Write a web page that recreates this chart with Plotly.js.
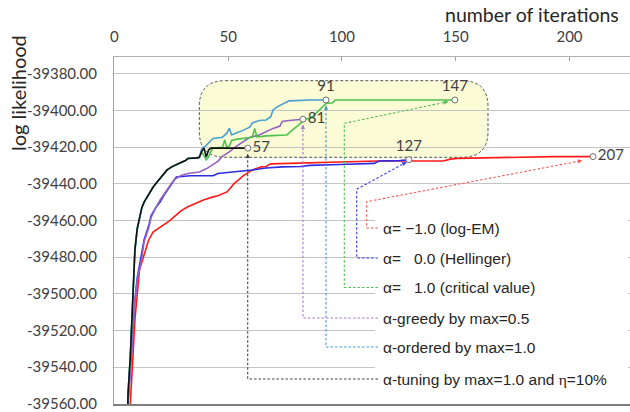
<!DOCTYPE html>
<html><head><meta charset="utf-8">
<script src="https://cdn.plot.ly/plotly-3.0.1.min.js"></script>
<style>html,body{margin:0;padding:0;background:#fff}#chart{width:630px;height:412px}</style>
</head><body><div id="chart"></div>
<script>
// ---------- data ----------
const iterLogEM = [5,6,7,8,9,10,12,14,16,18,20,23,26,28,31,35,38,42,44,48,51,55,59,63,65,67,84,113,142,145,148,171,190,207];
const llLogEM = [-39600,-39560,-39537.6,-39514.2,-39500.5,-39486.9,-39478.7,-39470.5,-39466.2,-39464.5,-39462.9,-39460.2,-39456.9,-39454.7,-39452.5,-39450.4,-39448.7,-39447.1,-39446.5,-39444.4,-39440.0,-39435.6,-39432.4,-39430.7,-39430.5,-39429.1,-39428.4,-39427.5,-39427.5,-39426.5,-39426.1,-39425.4,-39425.1,-39425.1];

const iterHellinger = [4,5,6,7,8,9,11,12,14,15,17,19,21,23,25,26,32,42,44,52,59,65,72,80,84,97,112,114,123,127];
const llHellinger = [-39620,-39560,-39541.5,-39519.6,-39503.3,-39491.3,-39478.7,-39470.5,-39462.9,-39457.5,-39453.1,-39449.8,-39445.5,-39441.6,-39437.8,-39436.2,-39435.6,-39435.6,-39434.3,-39433.5,-39432.4,-39431.3,-39430.7,-39430.5,-39429.9,-39429.4,-39428.8,-39427.5,-39427.3,-39426.8];

const iterCritical = [4,5,6,7,8,9,10,11,12,14,16,18,20,22,24,26,28,30,31,35,36,37,38,39,40,41,42,45,46,47,48,49,50,52,58,59,60,61,65,74,76,79,82,85,88,91,94,95,147];
const llCritical = [-39620,-39555,-39534.4,-39502.2,-39476,-39464.5,-39459,-39453,-39450,-39445.5,-39441.6,-39438.4,-39435.1,-39432.4,-39430.7,-39429.4,-39428.3,-39427.3,-39426.1,-39425.8,-39425.5,-39422.5,-39424.7,-39426.9,-39425.3,-39422.0,-39420.4,-39420.4,-39420.1,-39416.0,-39420.4,-39419.3,-39416.3,-39415.7,-39414.9,-39414.6,-39409.7,-39414.4,-39413.8,-39413.3,-39411.1,-39407.8,-39404.8,-39403.5,-39399.9,-39396.1,-39395.7,-39394.2,-39394.2];

const iterGreedy = [4,5,6,7,8,9,11,12,14,15,17,19,21,23,25,28,31,36,39,41,44,46,49,52,55,58,62,65,68,71,72,75,81];
const llGreedy = [-39620,-39560,-39541.5,-39520.7,-39504.4,-39492.4,-39480.4,-39471.6,-39464.0,-39458.5,-39453.1,-39448.7,-39444.9,-39441.6,-39437.8,-39435.4,-39434.3,-39433.5,-39431.8,-39430.2,-39427.7,-39425.0,-39422.5,-39419.5,-39417.1,-39414.6,-39413.3,-39411.4,-39409.7,-39408.4,-39405.9,-39405.4,-39404.7];

const iterOrdered = [4,5,6,7,8,9,10,11,12,14,16,18,20,22,24,26,28,30,31,35,36,37,39,41,42,46,48,49,50,52,55,58,59,62,65,67,68,70,72,75,84,91];
const llOrdered = [-39620,-39555,-39534.4,-39502.2,-39476,-39464.5,-39459,-39453,-39450,-39445.5,-39441.6,-39438.4,-39435.1,-39432.4,-39430.7,-39429.4,-39428.3,-39427.3,-39426.1,-39425.8,-39425.5,-39420.9,-39419.0,-39416.3,-39415.2,-39414.6,-39412.2,-39409.7,-39413.3,-39412.2,-39410.8,-39408.9,-39406.7,-39405.4,-39405.1,-39403.3,-39399.6,-39397.8,-39396.6,-39394.7,-39394.2,-39394.2];

const iterTuning = [4,5,6,7,8,9,10,11,12,14,16,18,20,22,24,26,28,30,31,35,36,37,38,39,40,41,57];
const llTuning = [-39620,-39555,-39534.4,-39502.2,-39476,-39464.5,-39459,-39453,-39450,-39445.5,-39441.6,-39438.4,-39435.1,-39432.4,-39430.7,-39429.4,-39428.3,-39427.3,-39426.1,-39425.8,-39425.5,-39422.3,-39420.5,-39425.3,-39421.5,-39420.5,-39420.5];

const seriesNames = ['α= −1.0 (log-EM)','α=\u00A0\u00A0\u00A00.0 (Hellinger)','α=\u00A0\u00A0\u00A01.0 (critical value)','α-greedy by max=0.5','α-ordered by max=1.0','α-tuning by max=1.0 and <span style="font-family:\'Liberation Serif\',serif">η</span>=10%'];

const xTickVals = [0,50,100,150,200];
const xTickText = ['0','50','100','150','200'];
const yTickVals = [-39560,-39540,-39520,-39500,-39480,-39460,-39440,-39420,-39400,-39380];
const yTickText = ['-39560.00','-39540.00','-39520.00','-39500.00','-39480.00','-39460.00','-39440.00','-39420.00','-39400.00','-39380.00'];

// ---------- geometry ----------
const L=114,R=630,T=57,B=404;
const xd0=(L-116.5)/2.302, xd1=(R-116.5)/2.302;
const yd0=-39560.2, yd1=-39380+(74-T)/1.8333;
const X = px => xd0+(px-L)*(xd1-xd0)/(R-L);
const Y = py => yd0+(B-py)*(yd1-yd0)/(B-T);
const PX = x => L+(x-xd0)*(R-L)/(xd1-xd0);
const PY = y => B-(y-yd0)*(B-T)/(yd1-yd0);

const colors = ['#FF1A1A','#2B2BE3','#4CC44C','#9562C0','#4A9FD2','#111111'];
const connColors = ['#FF5555','#3535F0','#55BB55','#A87AD8','#3F9BDB','#444444'];

const seriesX=[iterLogEM,iterHellinger,iterCritical,iterGreedy,iterOrdered,iterTuning];
const seriesY=[llLogEM,llHellinger,llCritical,llGreedy,llOrdered,llTuning];
const drawOrder=[0,1,3,2,4,5];

const traces = drawOrder.map(i=>({
  x:seriesX[i], y:seriesY[i], mode:'lines', type:'scatter',
  line:{color:colors[i], width:1.6}, hoverinfo:'skip', showlegend:false
}));

const endX = seriesX.map(a=>a[a.length-1]);
const endY = seriesY.map(a=>a[a.length-1]);
const endPos = ['middle right','top center','top center','middle right','top center','middle right'];
traces.push({
  x:endX, y:endY, mode:'markers+text', type:'scatter',
  text:endX.map(String), textposition:endPos,
  textfont:{family:'Lato, sans-serif', size:15, color:'#404040'},
  marker:{size:6, color:'rgba(255,255,255,0.9)', line:{color:'#707070', width:1}},
  hoverinfo:'skip', showlegend:false, cliponaxis:false
});
traces.push({x:xTickVals, y:xTickVals.map(()=>null), xaxis:'x2', mode:'markers', hoverinfo:'skip', showlegend:false});

// ---------- decorations ----------
const shapes=[];
(function(){
  const bx0=X(199.3), bx1=X(488), byT=Y(80.7), byB=Y(157.3);
  const r=26, rx=X(L+r)-X(L), ry=Y(B-r)-Y(B);
  const p = `M ${bx0+rx},${byT} L ${bx1-rx},${byT} Q ${bx1},${byT} ${bx1},${byT-ry} L ${bx1},${byB+ry} Q ${bx1},${byB} ${bx1-rx},${byB} L ${bx0+rx},${byB} Q ${bx0},${byB} ${bx0},${byB+ry} L ${bx0},${byT-ry} Q ${bx0},${byT} ${bx0+rx},${byT} Z`;
  shapes.push({type:'path', xref:'x', yref:'y', path:p, layer:'below', fillcolor:'#FBFBD6', line:{color:'#555', width:1, dash:'3px,2px'}});
})();
shapes.push({type:'rect', xref:'x', yref:'y', x0:X(375), x1:X(628), y0:Y(400), y1:Y(208), fillcolor:'#fff', line:{width:0}, layer:'above'});

const textPY=[228,258,287.5,318,347,379];
const textPX=381, connStart=378;
const annotations=[];
const bendPX=[366.7,356.7,344.3,PX(endX[3]),PX(endX[4]),PX(endX[5])];
const topPY=[201.7,189.3,123.3,null,null,null];
const tipPX=[PX(endX[0])-11,PX(endX[1])-2.5,PX(endX[2])-7,PX(endX[3]),PX(endX[4]),PX(endX[5])];
const tipPY=[PY(endY[0])+4,PY(endY[1])+2.5,PY(endY[2])+1.7,PY(endY[3])+5.5,PY(endY[4])+5.5,PY(endY[5])+5.5];
for(let i=0;i<6;i++){
  let pts=[[connStart,textPY[i]],[bendPX[i],textPY[i]]];
  if(topPY[i]!==null){pts.push([bendPX[i],topPY[i]]);}
  pts.push([tipPX[i],tipPY[i]]);
  const p='M '+pts.map(q=>X(q[0])+','+Y(q[1])).join(' L ');
  shapes.push({type:'path', xref:'x', yref:'y', path:p, layer:'above', line:{color:connColors[i], width:1.1, dash:'2.5px,2px'}});
  const prev=pts[pts.length-2];
  const dx=tipPX[i]-prev[0], dy=tipPY[i]-prev[1], len=Math.hypot(dx,dy);
  annotations.push({xref:'x', yref:'y', x:X(tipPX[i]), y:Y(tipPY[i]), text:'', showarrow:true,
    ax:-dx/len*5, ay:-dy/len*5, arrowhead:2, arrowsize:0.85, arrowwidth:1, arrowcolor:connColors[i], standoff:0});
  annotations.push({xref:'x', yref:'y', x:X(textPX), y:Y(textPY[i]), xanchor:'left', yanchor:'middle',
    text:seriesNames[i], showarrow:false, font:{family:'Liberation Sans, Arial, sans-serif', size:15.5, color:'#262626'}});
}
annotations.push({xref:'paper', yref:'paper', x:(621-L)/(R-L), y:(B-14)/(B-T), xanchor:'right', yanchor:'middle',
  text:'number of iterations', showarrow:false, font:{family:'Lato, sans-serif', size:19.5, color:'#262626'}});
annotations.push({xref:'paper', yref:'paper', x:(18-L)/(R-L), y:(B-93)/(B-T), xanchor:'center', yanchor:'middle',
  text:'log likelihood', textangle:-90, showarrow:false, font:{family:'Lato, sans-serif', size:20, color:'#262626'}});

const layout={
  width:630, height:412,
  margin:{l:L, r:630-R, t:T, b:412-B, pad:0},
  paper_bgcolor:'#fff', plot_bgcolor:'#fff',
  showlegend:false,
  xaxis:{range:[xd0,xd1], showgrid:false, zeroline:false, showticklabels:false, ticks:'', showline:true, linecolor:'#7F7F7F', linewidth:1.5, side:'bottom', fixedrange:true},
  xaxis2:{overlaying:'x', side:'top', anchor:'y', range:[-0.2,226.6], tickvals:xTickVals, ticktext:xTickText, showgrid:false, zeroline:false,
    showline:true, linecolor:'#B0B0B0', ticks:'inside', ticklen:4, tickcolor:'#A0A0A0', ticklabelstandoff:8,
    tickfont:{family:'Lato, sans-serif', size:15, color:'#404040'}},
  yaxis:{range:[yd0,yd1], tickvals:yTickVals, ticktext:yTickText, showgrid:true, gridcolor:'#C4C4C4', gridwidth:1, zeroline:false,
    showline:true, linecolor:'#A6A6A6', ticks:'', ticklabelstandoff:13, ticklabeloverflow:'allow',
    tickfont:{family:'Lato, sans-serif', size:15, color:'#404040'}},
  shapes:shapes, annotations:annotations
};
Plotly.newPlot('chart', traces, layout, {displayModeBar:false, staticPlot:true});
</script></body></html>
